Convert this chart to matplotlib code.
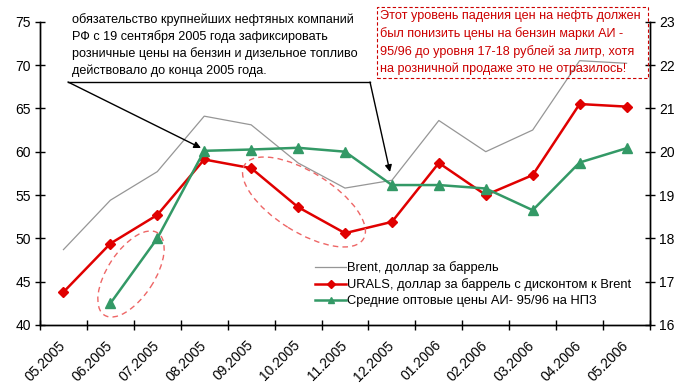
import numpy as np
import matplotlib
matplotlib.use("Agg")
import matplotlib.pyplot as plt
from matplotlib.patches import Ellipse, Rectangle, FancyArrowPatch
from matplotlib.lines import Line2D
from matplotlib.transforms import IdentityTransform, ScaledTranslation

plt.rcParams['font.family'] = ['Liberation Sans', 'DejaVu Sans']
plt.rcParams['font.size'] = 9

# --- data ---
months = ['05.2005', '06.2005', '07.2005', '08.2005', '09.2005', '10.2005', '11.2005',
          '12.2005', '01.2006', '02.2006', '03.2006', '04.2006', '05.2006']
brent = [48.7, 54.4, 57.7, 64.1, 63.1, 58.7, 55.8, 56.7, 63.6, 60.0, 62.5, 70.5, 70.2]
urals = [43.8, 49.4, 52.7, 59.1, 58.1, 53.6, 50.6, 51.9, 58.7, 55.0, 57.3, 65.5, 65.2]
ai95 = [np.nan, 16.5, 18.0, 20.02, 20.05, 20.09, 20.0, 19.23, 19.23, 19.15, 18.65, 19.75, 20.08]

labels = ['Brent, доллар за баррель',
          'URALS, доллар за баррель с дисконтом к Brent',
          'Средние оптовые цены АИ- 95/96 на НПЗ']
note_black = ("обязательство крупнейших нефтяных компаний\n"
              "РФ с 19 сентября 2005 года зафиксировать\n"
              "розничные цены на бензин и дизельное топливо\n"
              "действовало до конца 2005 года.")
note_red = ("Этот уровень падения цен на нефть должен\n"
            "был понизить цены на бензин марки АИ -\n"
            "95/96 до уровня 17-18 рублей за литр, хотя\n"
            "на розничной продаже это не отразилось!")

W, H = 675, 384
fig = plt.figure(figsize=(W / 100, H / 100), dpi=100)
ax = fig.add_axes([40 / W, 1 - 325 / H, 610 / W, (325 - 21.7) / H])
ax2 = ax.twinx()

x = np.arange(len(months))
red = '#e00000'
green = '#339966'
gray = '#969696'

ax.plot(x, brent, color=gray, lw=0.9, zorder=2)
ax.plot(x, urals, color=red, lw=1.8, marker='D', ms=5, zorder=3)
ax2.plot(x, ai95, color=green, lw=1.8, marker='^', ms=7, zorder=3)

ax.set_xlim(-0.5, len(months) - 0.5)
ax.set_ylim(40, 75)
ax.set_yticks(np.arange(40, 76, 5))
ax2.set_ylim(16, 23)
ax2.set_yticks(np.arange(16, 24, 1))

ax.set_xticks(x)
ax.set_xticklabels(months, rotation=45, ha='right', va='center',
                   rotation_mode='anchor', fontsize=10)
shift = ScaledTranslation(-4 / 100, 0, fig.dpi_scale_trans)
for lab in ax.get_xticklabels():
    lab.set_transform(lab.get_transform() + shift)
ax.set_xticks(np.arange(-0.5, len(months), 1), minor=True)
ax.tick_params(axis='x', which='major', length=0, pad=13)
ax.tick_params(axis='x', which='minor', direction='inout', length=7, width=1)
ax.tick_params(axis='y', direction='inout', length=7, width=1, pad=3, labelsize=10)
ax2.tick_params(axis='y', direction='inout', length=7, width=1, pad=3, labelsize=10)

for a in (ax, ax2):
    a.spines['top'].set_visible(False)
    for s in ('left', 'right', 'bottom'):
        a.spines[s].set_linewidth(1)
ax.patch.set_visible(False)

# legend
handles = [Line2D([], [], color=gray, lw=0.9),
           Line2D([], [], color=red, lw=1.8, marker='D', ms=4),
           Line2D([], [], color=green, lw=1.8, marker='^', ms=5)]
ax.legend(handles, labels, loc='upper left', bbox_to_anchor=(309 / W, 1 - 255 / H),
          bbox_transform=fig.transFigure, frameon=False, handlelength=2.35,
          handletextpad=0.08, labelspacing=0.3, borderpad=0, fontsize=9.3)

# annotations in figure pixels
px = IdentityTransform()
fig.text(72 / W, 1 - 13 / H, note_black, ha='left', va='top', fontsize=9.1,
         linespacing=1.43)
fig.text(380 / W, 1 - 10 / H, note_red, ha='left', va='top', fontsize=9.1,
         color='#cc0000', linespacing=1.49)
fig.add_artist(Rectangle((377, H - 78), 271, 71, transform=px, fill=False,
                         ec='#cc0000', lw=0.8, ls=(0, (3, 2))))

fig.add_artist(Line2D([68, 370], [H - 82, H - 82], transform=px, color='black', lw=1))
for start, end in [((68, H - 82), (201, H - 148)), ((370, H - 82), (390, H - 172))]:
    fig.add_artist(FancyArrowPatch(start, end, transform=px, arrowstyle='-|>',
                                   mutation_scale=10, color='black', lw=1,
                                   shrinkA=0, shrinkB=0))

fig.add_artist(Ellipse((131, H - 274), 98, 47, angle=57, transform=px, fill=False,
                       ec='#ee6666', lw=1, ls=(0, (4, 3))))
fig.add_artist(Ellipse((304, H - 202), 140, 60, angle=-32, transform=px, fill=False,
                       ec='#ee6666', lw=1, ls=(0, (4, 3))))

fig.savefig('out.png', dpi=100)
